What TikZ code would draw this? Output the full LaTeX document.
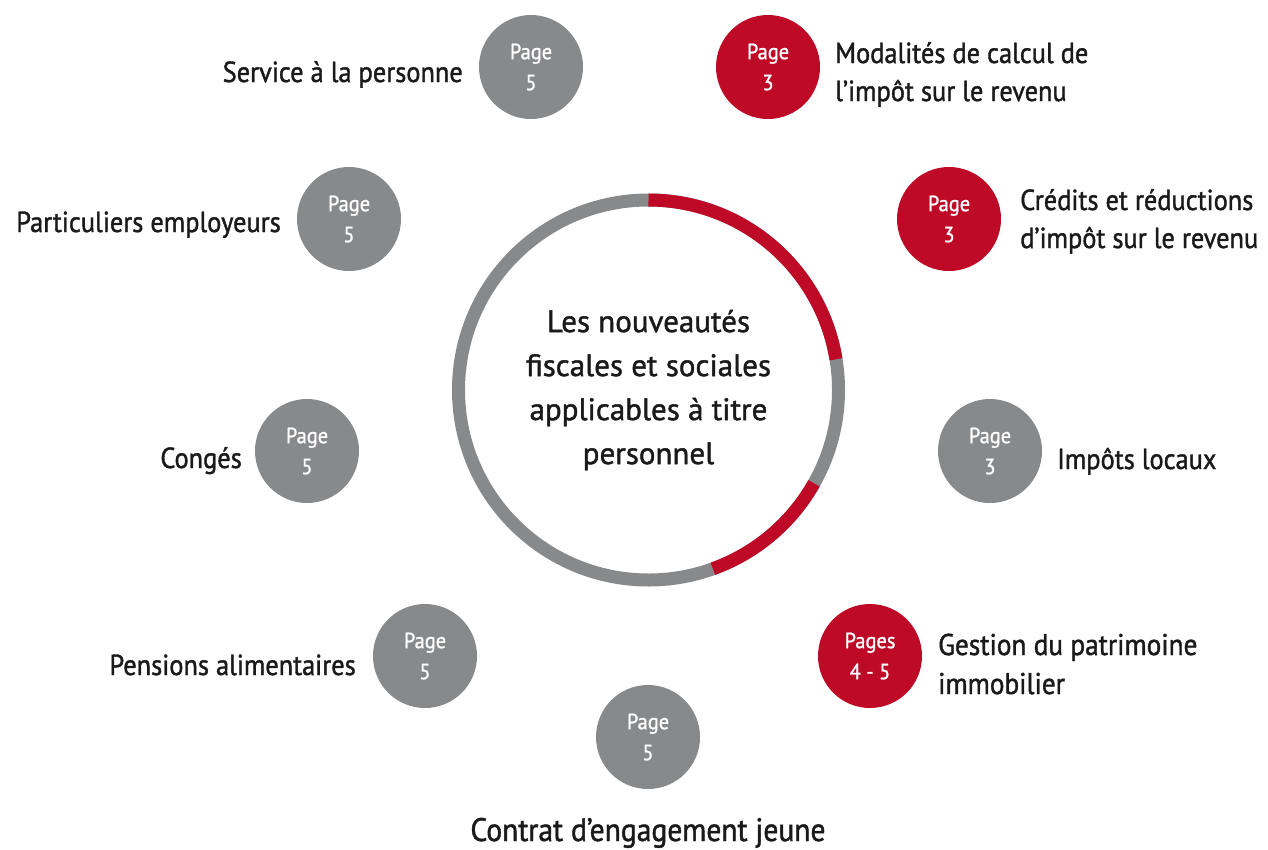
\documentclass[tikz,border=0pt]{standalone}
\usepackage{fontspec}
\setmainfont{PT Sans}
\newfontfamily\lblfont[FakeStretch=0.91,FakeBold=1.3]{PT Sans}
\newfontfamily\ctrfont[FakeBold=1.3]{PT Sans}
\newfontfamily\pgfont[FakeStretch=0.93,FakeBold=1.0]{PT Sans}
\definecolor{cred}{HTML}{BE0A26}
\definecolor{cgray}{HTML}{88898B}
\definecolor{ctext}{HTML}{1A1A1A}
\begin{document}
\begin{tikzpicture}[x=1pt,y=-1pt,
 pg/.style={circle,minimum size=104pt,inner sep=0pt,text=white,align=center,font=\pgfont\fontsize{22}{31}\selectfont},
 pgred/.style={pg,fill=cred},
 pggray/.style={pg,fill=cgray},
 lbl/.style={text=ctext,inner sep=0pt,align=left,font=\lblfont\fontsize{29}{38.5}\selectfont},
 ring/.style={line width=13pt},
]
\path[use as bounding box,fill=white] (0,0) rectangle (1268,849);

% centre
\node[circle,minimum size=368pt,inner sep=0pt,align=center,text=ctext,
      font=\ctrfont\fontsize{31}{44}\selectfont] (c) at (648.5,390)
  {Les nouveautés\\fiscales et sociales\\applicables à titre\\personnel};
\draw[cgray,ring] (c.center) circle[radius=190pt];
\draw[cred,ring] ([shift={(90:190pt)}]c.center) arc[start angle=90,end angle=9.3,radius=190pt];
\draw[cred,ring] ([shift={(-29.4:190pt)}]c.center) arc[start angle=-29.4,end angle=-70.2,radius=190pt];

% page circles
\node[pggray] (p1) at (531,67) {Page\\5};
\node[pgred]  (p2) at (768,67) {Page\\3};
\node[pggray] (p3) at (349,219) {Page\\5};
\node[pgred]  (p4) at (949,219) {Page\\3};
\node[pggray] (p5) at (307,451) {Page\\5};
\node[pggray] (p6) at (990,451) {Page\\3};
\node[pggray] (p7) at (425,656) {Page\\5};
\node[pgred]  (p8) at (870,656) {Pages\\4 - 5};
\node[pggray] (p9) at (648,737) {Page\\5};

% labels
\node[lbl,anchor=base east] (t1) at (463,82) {Service à la personne};
\node[lbl,anchor=base west] (t2) at (835,63) {Modalités de calcul de};
\node[lbl,anchor=base west] (t2b) at (835,101) {l’impôt sur le revenu};
\node[lbl,anchor=base east] (t3) at (281,232) {Particuliers employeurs};
\node[lbl,anchor=base west] (t4) at (1020,210) {Crédits et réductions};
\node[lbl,anchor=base west] (t4b) at (1020,248) {d’impôt sur le revenu};
\node[lbl,anchor=base east] (t5) at (242,468) {Congés};
\node[lbl,anchor=base west] (t6) at (1057,469) {Impôts locaux};
\node[lbl,anchor=base east] (t7) at (356,675) {Pensions alimentaires};
\node[lbl,anchor=base west,font=\lblfont\fontsize{30}{39.5}\selectfont] (t8) at (938,655) {Gestion du patrimoine};
\node[lbl,anchor=base west,font=\lblfont\fontsize{30}{39.5}\selectfont] (t8b) at (938,694) {immobilier};
\node[lbl,anchor=base,font=\lblfont\fontsize{32.5}{40}\selectfont] (t9) at (648,841) {Contrat d’engagement jeune};
\end{tikzpicture}
\end{document}
